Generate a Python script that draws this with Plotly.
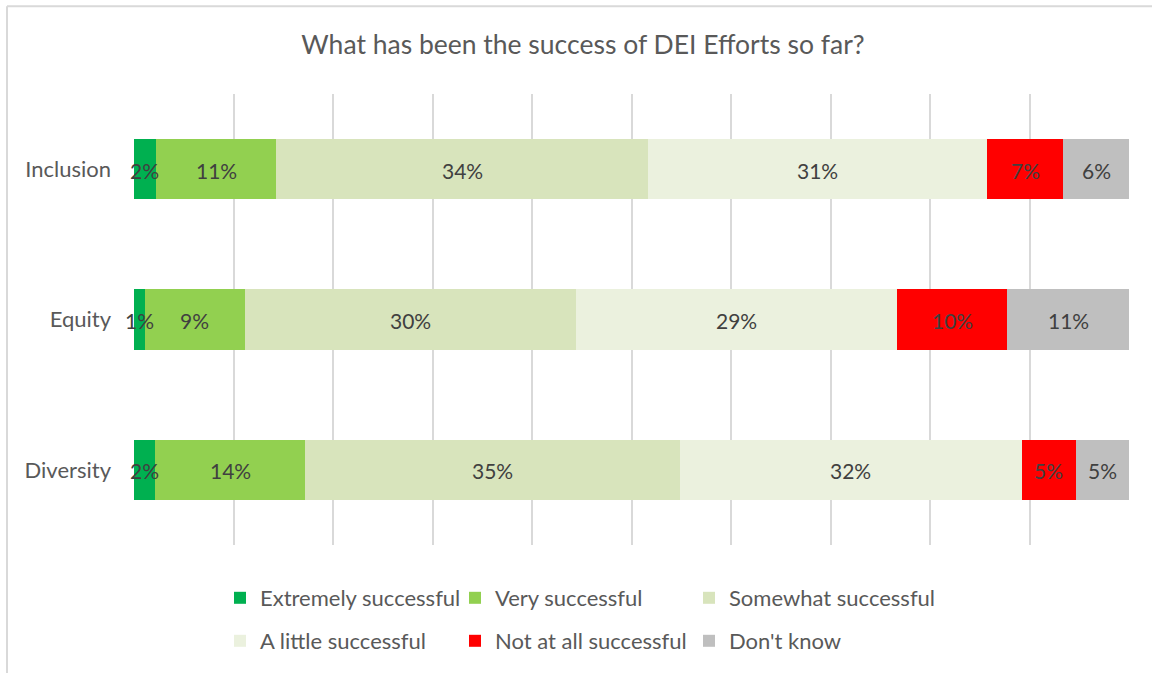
import numpy as np
import plotly.graph_objects as go

# Survey responses per DEI area (percent of respondents)
areas = ["Inclusion", "Equity", "Diversity"]
responses = [
    "Extremely successful",
    "Very successful",
    "Somewhat successful",
    "A little successful",
    "Not at all successful",
    "Don't know",
]
extremely = [2, 1, 2]
very = [11, 9, 14]
somewhat = [34, 30, 35]
little = [31, 29, 32]
not_at_all = [7, 10, 5]
dont_know = [6, 11, 5]
series = [extremely, very, somewhat, little, not_at_all, dont_know]

colors = ["#00B050", "#92D050", "#D8E4BC", "#EBF1DE", "#FF0000", "#BFBFBF"]
font_family = "Lato, 'Open Sans', sans-serif"
label_grey = "#595959"

# plot area in pixels: x 134..1129, y 94..546
L, R, T, B = 134, 1129, 94, 546
W, H = 1152, 673
pw, ph = R - L, B - T

def px_x(x):
    return (x - L) / pw

def px_y(y):
    return (B - y) / ph

# legend grid: three columns, two rows (text start x, row centre y)
legend_cols = [220, 455, 689]
legend_rows = [598, 641]

fig = go.Figure()
legend_layouts = {}
for i, (name, vals, col) in enumerate(zip(responses, series, colors)):
    key = "legend" if i == 0 else f"legend{i + 1}"
    fig.add_trace(go.Bar(
        y=areas,
        x=vals,
        name=name,
        orientation="h",
        marker=dict(color=col, line=dict(width=0)),
        legend=key,
        hoverinfo="skip",
    ))
    legend_layouts[key] = dict(
        orientation="h",
        xanchor="left",
        yanchor="middle",
        x=px_x(legend_cols[i % 3]),
        y=px_y(legend_rows[i // 3]),
        font=dict(family=font_family, size=22, color=label_grey),
        bgcolor="rgba(0,0,0,0)",
    )

# Value labels placed at the centre of each segment on the 100% scale,
# drawn above all bars so narrow segments can carry wider labels.
vals_arr = np.array(series, dtype=float)            # shape: (responses, areas)
shares = vals_arr / vals_arr.sum(axis=0) * 100
centres = np.cumsum(shares, axis=0) - shares / 2
annotations = []
for i, vals in enumerate(series):
    for j, area in enumerate(areas):
        annotations.append(dict(
            x=centres[i, j],
            y=area,
            xref="x",
            yref="y",
            text=f"{vals[j]}%",
            showarrow=False,
            yshift=-1,
            font=dict(family=font_family, size=21, color="#404040"),
        ))

fig.update_layout(
    width=W,
    height=H,
    barmode="stack",
    barnorm="percent",
    bargap=0.6,
    paper_bgcolor="white",
    plot_bgcolor="white",
    margin=dict(l=L, r=W - R, t=T, b=H - B),
    title=dict(
        text="What has been the success of DEI Efforts so far?",
        x=583 / W,
        xanchor="center",
        y=1 - 45 / H,
        yanchor="middle",
        font=dict(family=font_family, size=26.5, color=label_grey),
    ),
    xaxis=dict(
        range=[0, 100],
        dtick=10,
        showgrid=True,
        gridcolor="#D9D9D9",
        gridwidth=2,
        zeroline=False,
        showticklabels=False,
        showline=False,
        fixedrange=True,
    ),
    yaxis=dict(
        categoryorder="array",
        categoryarray=areas,
        autorange="reversed",
        showgrid=False,
        zeroline=False,
        showline=False,
        ticks="",
        ticklabelstandoff=22,
        tickfont=dict(family=font_family, size=22, color=label_grey),
    ),
    showlegend=True,
    annotations=annotations,
    shapes=[
        dict(type="line", xref="paper", yref="paper",
             x0=px_x(7), x1=px_x(7), y0=px_y(6), y1=px_y(700),
             line=dict(color="#D9D9D9", width=2)),
        dict(type="line", xref="paper", yref="paper",
             x0=px_x(7), x1=px_x(1170), y0=px_y(6), y1=px_y(6),
             line=dict(color="#D9D9D9", width=2)),
    ],
    **legend_layouts,
)

fig.write_html("out.html")
